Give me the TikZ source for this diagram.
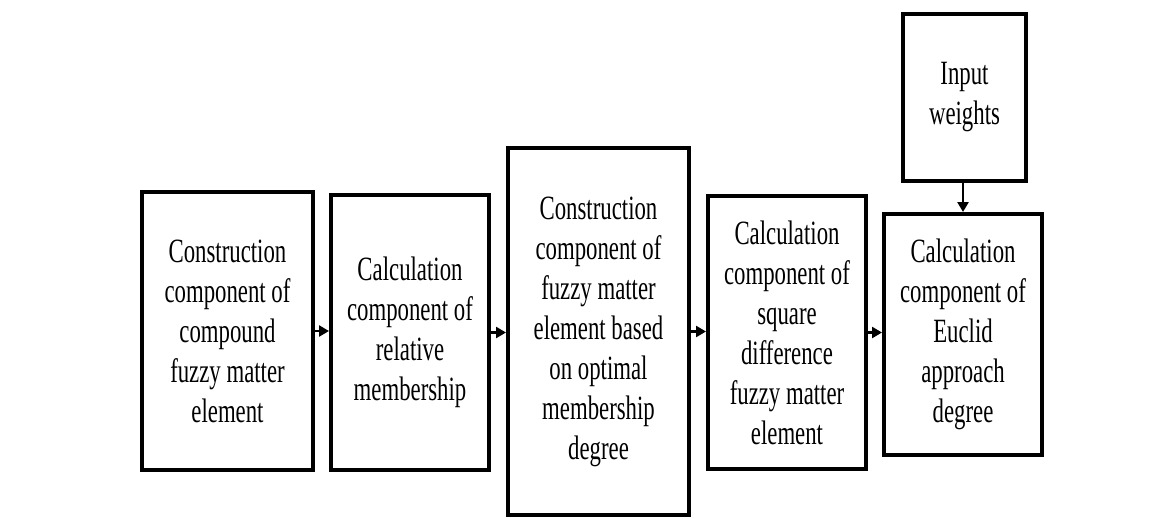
\documentclass[tikz,border=0pt]{standalone}
\usepackage{fontspec}
\usetikzlibrary{arrows.meta}
\newfontfamily\boxfont{Liberation Serif}[FakeStretch=0.67]
\tikzset{
  stagebox/.style={draw=black, line width=4pt, align=center, inner sep=0pt,
    font=\boxfont\fontsize{34}{40}\selectfont},
  arr/.style={line width=2.5pt, -{Triangle[length=10pt,width=11pt]}}
}
\begin{document}
\begin{tikzpicture}[x=1pt,y=-1pt]
\useasboundingbox (0,0) rectangle (1164,519);
% boxes
\node[stagebox, minimum width=171pt, minimum height=278pt] (b1) at (227.5,331)
  {Construction\\component of\\compound\\fuzzy matter\\element};
\node[stagebox, minimum width=158pt, minimum height=275pt] (b2) at (410,332.5)
  {Calculation\\component of\\relative\\membership};
\node[stagebox, minimum width=181pt, minimum height=367pt] (b3) at (598.5,331.5)
  {Construction\\component of\\fuzzy matter\\element based\\on optimal\\membership\\degree};
\node[stagebox, minimum width=158pt, minimum height=273pt] (b4) at (787,332.5)
  {Calculation\\component of\\square\\difference\\fuzzy matter\\element};
\node[stagebox, minimum width=158pt, minimum height=241pt] (b5) at (963,334.5)
  {Calculation\\component of\\Euclid\\approach\\degree};
\node[stagebox, minimum width=123pt, minimum height=167pt] (inw) at (964.5,97.5)
  {Input\\weights};
% connectors
\draw[arr] (b1.east) -- (b2.west |- b1.east);
\draw[arr] (b2.east) -- (b3.west |- b2.east);
\draw[arr] (b3.east) -- (b4.west |- b3.east);
\draw[arr] (b4.east) -- (b5.west |- b4.east);
\draw[arr] (inw.south -| b5.north) -- (b5.north);
\end{tikzpicture}
\end{document}
